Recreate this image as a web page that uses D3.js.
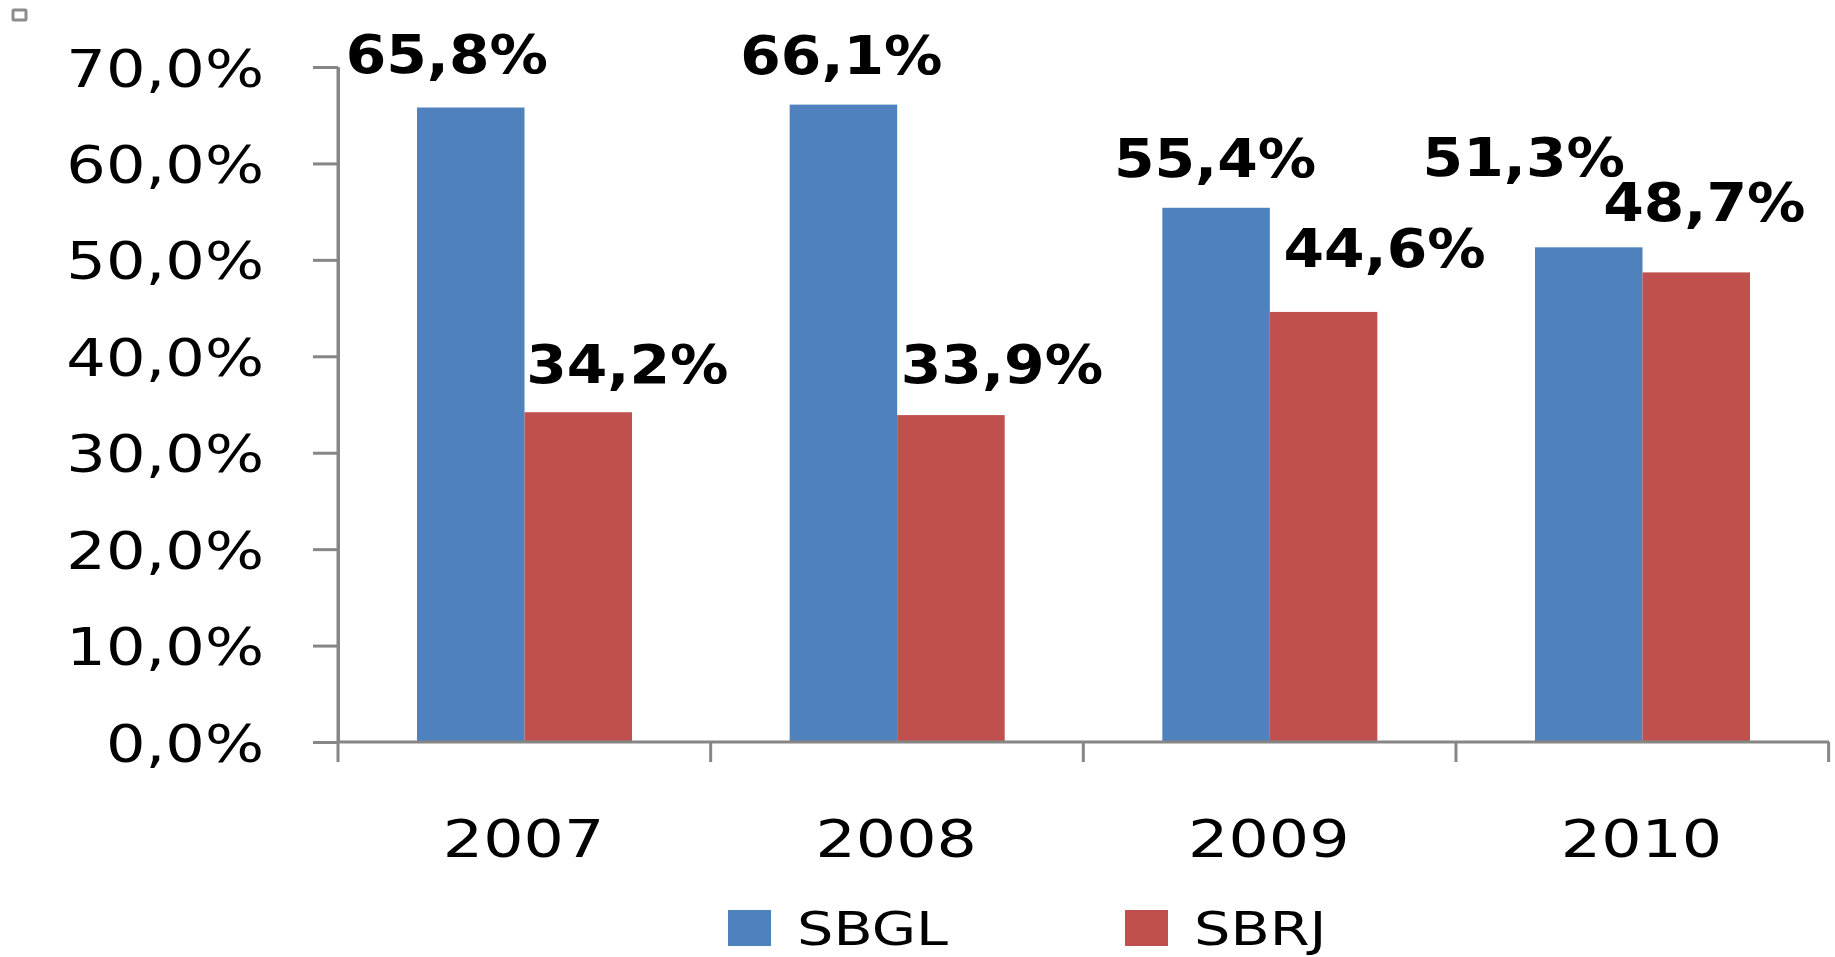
<!DOCTYPE html>
<html>
<head>
<meta charset="utf-8">
<script src="https://cdn.jsdelivr.net/npm/d3@7"></script>
<style>
  body { margin: 0; background: #fff; }
  svg { display: block; font-family: "DejaVu Sans", Verdana, sans-serif; }
</style>
</head>
<body>
<svg id="chart" width="1835" height="957"></svg>
<script>
// data
const years = ["2007", "2008", "2009", "2010"];
const seriesNames = ["SBGL", "SBRJ"];
const sbgl = [0.658, 0.661, 0.554, 0.513];
const sbrj = [0.342, 0.339, 0.446, 0.487];
const yTicks = [0, 0.1, 0.2, 0.3, 0.4, 0.5, 0.6, 0.7];
const colors = ["#4F81BD", "#C0504D"];

// label nudges (the labels were moved by hand in the original)
const labelDx = [[-24, -2, -1, -65], [49, 51, 61, 8]];
const labelDy = [[-35, -31, -31, -71], [-29, -32, -45, -51]];

const ptBR = d3.formatLocale({ decimal: ",", thousands: ".", grouping: [3], currency: ["R$", ""] });
const pct = ptBR.format(".1%");

const svg = d3.select("#chart");
const axisColor = "#868686";
const plotLeft = 338, plotRight = 1829, plotTop = 67, base = 742;
const sxReg = 1.22, sxBold = 1.1; // text in the original is stretched sideways

const x = d3.scaleBand().domain(years).range([plotLeft, plotRight]).paddingInner(0.423).paddingOuter(0.212);
const xs = d3.scaleBand().domain(seriesNames).range([0, x.bandwidth()]);
const y = d3.scaleLinear().domain([0, 0.7]).range([base, plotTop]);

// small marker top-left
svg.append("rect").attr("x", 13).attr("y", 10).attr("width", 13).attr("height", 10)
  .attr("fill", "#fff").attr("stroke", "#8c8c8c").attr("stroke-width", 3).attr("rx", 1);

// y axis
const yAxis = svg.append("g").attr("transform", `translate(${plotLeft},0)`)
  .call(d3.axisLeft(y).tickValues(yTicks).tickSize(25).tickSizeOuter(0).tickFormat(pct));
yAxis.select(".domain").attr("stroke", axisColor).attr("stroke-width", 3);
yAxis.selectAll(".tick line").attr("stroke", axisColor).attr("stroke-width", 3);
yAxis.selectAll(".tick text")
  .attr("x", null).attr("dy", null).attr("y", 19)
  .attr("transform", `translate(-74,0) scale(${sxReg},1)`)
  .attr("font-size", 51).attr("fill", "#000").attr("font-family", "DejaVu Sans");

// bars
const groups = svg.append("g").selectAll("g")
  .data(years).join("g")
  .attr("transform", d => `translate(${x(d)},0)`);

const vals = [sbgl, sbrj];
seriesNames.forEach((name, s) => {
  groups.append("rect")
    .attr("x", xs(name))
    .attr("width", xs.bandwidth())
    .attr("y", (d, i) => y(vals[s][i]))
    .attr("height", (d, i) => base - y(vals[s][i]))
    .attr("fill", colors[s]);
});

// x axis line and category boundary ticks
svg.append("line").attr("x1", plotLeft).attr("x2", plotRight).attr("y1", base).attr("y2", base)
  .attr("stroke", axisColor).attr("stroke-width", 3);
svg.append("line").attr("x1", plotLeft).attr("x2", plotLeft).attr("y1", plotTop).attr("y2", base)
  .attr("stroke", axisColor).attr("stroke-width", 3);
const bounds = d3.range(years.length + 1).map(i => x.range()[0] + i * x.step());
svg.append("g").selectAll("line").data(bounds).join("line")
  .attr("x1", d => d).attr("x2", d => d).attr("y1", base).attr("y2", base + 20)
  .attr("stroke", axisColor).attr("stroke-width", 3);

// year labels
svg.append("g").selectAll("text").data(years).join("text")
  .attr("transform", d => `translate(${x(d) + x.bandwidth() / 2 - 1},${base + 115}) scale(${sxReg},1)`)
  .attr("text-anchor", "middle").attr("font-size", 52).attr("fill", "#000")
  .text(d => d);

// data labels
seriesNames.forEach((name, s) => {
  svg.append("g").selectAll("text").data(years).join("text")
    .attr("transform", (d, i) => {
      const cx = x(d) + xs(name) + xs.bandwidth() / 2 + labelDx[s][i];
      const cy = y(vals[s][i]) + labelDy[s][i];
      return `translate(${cx},${cy}) scale(${sxBold},1)`;
    })
    .attr("text-anchor", "middle").attr("font-size", 53).attr("font-weight", "bold")
    .attr("fill", "#000")
    .text((d, i) => pct(vals[s][i]));
});

// legend
const legend = svg.append("g").selectAll("g").data(seriesNames).join("g")
  .attr("transform", (d, i) => `translate(${728 + i * 397},910)`);
legend.append("rect").attr("width", 43).attr("height", 36).attr("fill", (d, i) => colors[i]);
legend.append("text")
  .attr("transform", `translate(69,35) scale(${sxReg},1)`)
  .attr("font-size", 47).attr("fill", "#000")
  .text(d => d);
</script>
</body>
</html>
